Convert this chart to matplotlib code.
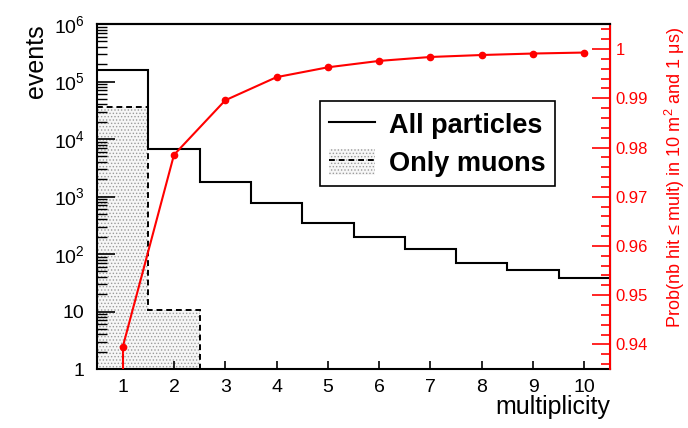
#Multiplicity histogram with cumulative probability on the right axis

import numpy as np
import matplotlib.pyplot as plt
from matplotlib.patches import Patch
from matplotlib.lines import Line2D
from matplotlib.legend_handler import HandlerTuple
from matplotlib.ticker import FixedLocator, MultipleLocator, FuncFormatter, LogLocator, NullFormatter

plt.rcParams['font.family'] = ['Liberation Sans', 'DejaVu Sans']
plt.rcParams['mathtext.fontset'] = 'custom'
plt.rcParams['mathtext.rm'] = 'Liberation Sans'
plt.rcParams['mathtext.it'] = 'Liberation Sans:italic'
plt.rcParams['hatch.linewidth'] = 0.6

#Daten
mult = np.arange(1, 11) # Multiplizität
all_particles = [1.6e5, 6.6e3, 1.8e3, 760, 350, 200, 120, 71, 53, 39]
only_muons = [3.6e4, 10.7, 0, 0, 0, 0, 0, 0, 0, 0]
prob = [0.9394, 0.9785, 0.9896, 0.9943, 0.9963, 0.9976, 0.9984, 0.9988, 0.9991, 0.9993]
y_ticks = [1, 10, 1e2, 1e3, 1e4, 1e5, 1e6]
y_labels = ['1', '10', '$10^{2}$', '$10^{3}$', '$10^{4}$', '$10^{5}$', '$10^{6}$']

red = '#ff0000'
edges = np.arange(0.5, 11.0, 1.0)
y_min, y_max = 1, 1e6
dash = (0, (3, 2))

fig = plt.figure(figsize=(6.88, 4.28), dpi=100)
ax = fig.add_axes([97/688, 1 - 369/428, 513/688, 345/428])

#Histogramme
muons_draw = np.where(np.array(only_muons) > 0, only_muons, y_min)
ax.stairs(muons_draw, edges, baseline=y_min, fill=True, facecolor='#f6f6f6',
          edgecolor='#9a9a9a', hatch='.....', lw=0)
ax.stairs(muons_draw, edges, baseline=None, color='k', ls=dash, lw=1.4)
ax.stairs(all_particles, edges, baseline=None, color='k', lw=1.5)

ax.set_yscale('log')
ax.set_ylim(y_min, y_max)
ax.set_xlim(edges[0], edges[-1])
ax.yaxis.set_major_locator(FixedLocator(y_ticks))
ax.yaxis.set_major_formatter(FuncFormatter(lambda v, p: y_labels[y_ticks.index(v)] if v in y_ticks else ''))
ax.yaxis.set_minor_locator(LogLocator(base=10, subs=np.arange(2, 10), numticks=20))
ax.yaxis.set_minor_formatter(NullFormatter())
ax.set_xticks(mult)
ax.tick_params(axis='y', which='major', direction='in', length=13, width=1.2, labelsize=14, pad=9, right=False)
ax.tick_params(axis='y', which='minor', direction='in', length=7, width=1.0, right=False)
ax.tick_params(axis='x', which='major', direction='in', length=6, width=1.2, labelsize=14, pad=7, top=False)
ax.tick_params(axis='x', which='minor', bottom=False, top=False)
for s in ['left', 'top', 'bottom']:
    ax.spines[s].set_linewidth(1.5)

ax.set_ylabel('events', loc='top', fontsize=18)
ax.yaxis.set_label_coords(-0.095, 1.0)
ax.set_xlabel('multiplicity', loc='right', fontsize=18)
ax.xaxis.set_label_coords(1.0, -0.075)

#Wahrscheinlichkeit rechte Achse
ax2 = ax.twinx()
ax2.plot(mult, prob, 'o-', color=red, ms=4.5, lw=1.5, zorder=5)
ax2.plot([mult[0], mult[0]], [prob[0], 0.9], color=red, lw=1.5, zorder=5)
ax2.set_ylim(0.935, 1.0051)
ax2.yaxis.set_major_locator(MultipleLocator(0.01))
ax2.yaxis.set_minor_locator(MultipleLocator(0.002))
ax2.yaxis.set_major_formatter(FuncFormatter(lambda v, p: f'{v:g}'))
ax2.tick_params(axis='y', which='major', direction='in', length=13, width=1.2, colors=red,
                labelsize=12, pad=4)
ax2.tick_params(axis='y', which='minor', direction='in', length=6.5, width=1.2, colors=red)
ax2.spines['right'].set_color(red)
ax2.spines['right'].set_linewidth(1.5)
ax2.spines['left'].set_visible(False)
ax2.spines['top'].set_linewidth(1.5)
ax2.spines['bottom'].set_visible(False)
ax2.set_ylabel('Prob(nb hit \u2264 mult) in 10 m$^{2}$ and 1 \u03bcs)', loc='top', color=red, fontsize=13)
ax2.yaxis.set_label_coords(1.104, 0.99)

#Legende
h_all = Line2D([], [], color='k', lw=1.5)
h_mu = (Patch(facecolor='#f6f6f6', edgecolor='#9a9a9a', hatch='.....', lw=0),
        Line2D([], [], color='k', ls=dash, lw=1.4))
leg = ax2.legend([h_all, h_mu], ['All particles', 'Only muons'],
                 handler_map={tuple: HandlerTuple(ndivide=1)},
                 loc='center', bbox_to_anchor=(0.421, 0.528, 0.485, 0.249),
                 prop={'weight': 'bold', 'size': 19.5}, frameon=True, fancybox=False,
                 edgecolor='k', framealpha=1, handlelength=1.7, handleheight=1.1,
                 borderaxespad=0, labelspacing=0.35, handletextpad=0.5, borderpad=0.35)
leg.get_frame().set_linewidth(1.2)

plt.savefig('out.png', dpi=100)
